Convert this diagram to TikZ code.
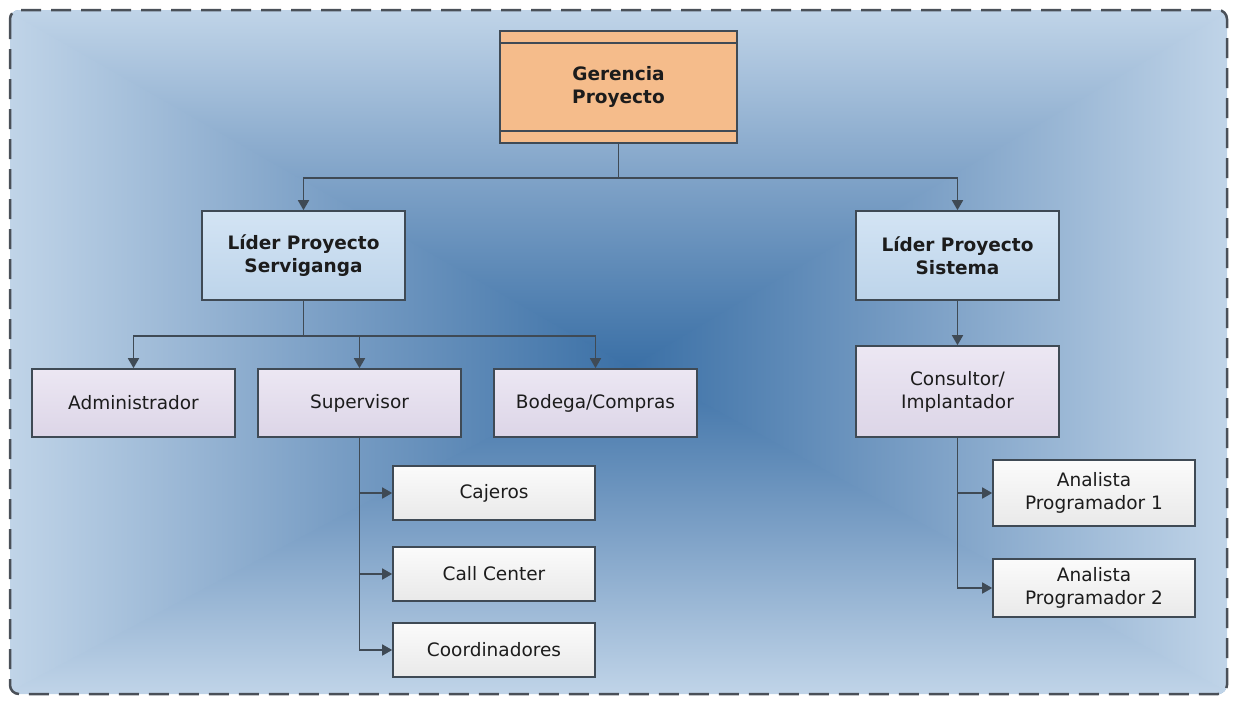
\documentclass[tikz,border=0pt]{standalone}
\usepackage{fontspec}
\setmainfont{DejaVu Sans}
\usetikzlibrary{arrows.meta}

\definecolor{bgedge}{HTML}{C0D4E8}
\definecolor{bgmid}{HTML}{7CA0C6}
\definecolor{bgcore}{HTML}{3B70A6}
\definecolor{frameC}{HTML}{4A5058}
\definecolor{lineC}{HTML}{3F4A55}
\definecolor{textC}{HTML}{1C1C1C}
\definecolor{orangeC}{HTML}{F5BC8B}
\definecolor{leadTop}{HTML}{D3E4F4}
\definecolor{leadBot}{HTML}{BDD4EA}
\definecolor{roleTop}{HTML}{ECE7F3}
\definecolor{roleBot}{HTML}{DCD5E7}
\definecolor{leafTop}{HTML}{FBFBFB}
\definecolor{leafBot}{HTML}{E9E9E9}

% rectangular background gradient, built from four triangular ramps
\pgfdeclareverticalshading{bgtop}{100bp}{color(0bp)=(bgcore); color(25bp)=(bgcore); color(50bp)=(bgmid); color(75bp)=(bgedge); color(100bp)=(bgedge)}
\pgfdeclareverticalshading{bgbottom}{100bp}{color(0bp)=(bgedge); color(25bp)=(bgedge); color(50bp)=(bgmid); color(75bp)=(bgcore); color(100bp)=(bgcore)}
\pgfdeclarehorizontalshading{bgleft}{100bp}{color(0bp)=(bgedge); color(25bp)=(bgedge); color(50bp)=(bgmid); color(75bp)=(bgcore); color(100bp)=(bgcore)}
\pgfdeclarehorizontalshading{bgright}{100bp}{color(0bp)=(bgcore); color(25bp)=(bgcore); color(50bp)=(bgmid); color(75bp)=(bgedge); color(100bp)=(bgedge)}

\tikzset{
  box/.style={draw=lineC, line width=1.6pt, minimum width=203pt, inner sep=2pt,
    align=center, text=textC, font=\fontsize{18.5}{23}\selectfont},
  boldbox/.style={box, font=\bfseries\fontsize{18.5}{23}\selectfont},
  topbox/.style={boldbox, fill=orangeC, minimum width=237pt, minimum height=112pt},
  leadbox/.style={boldbox, top color=leadTop, bottom color=leadBot, minimum height=89pt},
  rolebox/.style={box, top color=roleTop, bottom color=roleBot},
  leafbox/.style={box, top color=leafTop, bottom color=leafBot, minimum width=202pt},
  arr/.style={draw=lineC, line width=1.6pt, -{Triangle[length=10pt,width=11pt]}},
  frame/.style={draw=frameC, line width=2.5pt, dash pattern=on 20pt off 10pt, rounded corners=9pt}
}

\begin{document}
\begin{tikzpicture}[x=1pt, y=-1pt]
\useasboundingbox (0,0) rectangle (1237,704);

% background panel
\begin{scope}
  \clip[rounded corners=9pt] (10,10) rectangle (1227,694);
  \fill[bgmid] (10,10) rectangle (1227,694);
  \shade[shading=bgleft]   (10,10)   -- (10,694)   -- (630,365) -- cycle;
  \shade[shading=bgright]  (1227,10) -- (1227,694) -- (630,365) -- cycle;
  \shade[shading=bgtop]    (6,10)   -- (1231,10)  -- (634,365) -- (626,365) -- cycle;
  \shade[shading=bgbottom] (6,694)  -- (1231,694) -- (634,365) -- (626,365) -- cycle;
\end{scope}
\draw[frame] (10,10) rectangle (1227,694);

% boxes
\node[topbox]  (ger) at (618.5,87)   {Gerencia\\Proyecto};
\draw[lineC, line width=1.5pt] ([yshift=-13pt]ger.north west) -- ([yshift=-13pt]ger.north east);
\draw[lineC, line width=1.5pt] ([yshift=13pt]ger.south west) -- ([yshift=13pt]ger.south east);

\node[leadbox] (ls1) at (303.5,255.5) {Líder Proyecto\\Serviganga};
\node[leadbox] (ls2) at (957.5,255.5) {Líder Proyecto\\Sistema};

\node[rolebox, minimum height=68pt] (adm) at (133.5,403) {Administrador};
\node[rolebox, minimum height=68pt] (sup) at (359.5,403) {Supervisor};
\node[rolebox, minimum height=68pt] (bod) at (595.5,403) {Bodega/Compras};
\node[rolebox, minimum height=91pt] (con) at (957.5,391.5) {Consultor/\\Implantador};

\node[leafbox, minimum height=54pt] (caj) at (494,493) {Cajeros};
\node[leafbox, minimum height=54pt] (cal) at (494,574) {Call Center};
\node[leafbox, minimum height=54pt] (coo) at (494,650) {Coordinadores};

\node[leafbox, minimum height=66pt] (an1) at (1094,493) {Analista\\Programador 1};
\node[leafbox, minimum height=58pt] (an2) at (1094,588) {Analista\\Programador 2};

% connectors
\draw[arr] (ger.south) -- ++(0,34) -| (ls1.north);
\draw[arr] (ger.south) -- ++(0,34) -| (ls2.north);

\draw[arr] (ls1.south) -- ++(0,35) -| (adm.north);
\draw[arr] (ls1.south) -- ++(0,35) -| (sup.north);
\draw[arr] (ls1.south) -- ++(0,35) -| (bod.north);

\draw[arr] (ls2.south) -- (con.north);

\draw[arr] (sup.south) |- (caj.west);
\draw[arr] (sup.south) |- (cal.west);
\draw[arr] (sup.south) |- (coo.west);

\draw[arr] (con.south) |- (an1.west);
\draw[arr] (con.south) |- (an2.west);
\end{tikzpicture}
\end{document}
